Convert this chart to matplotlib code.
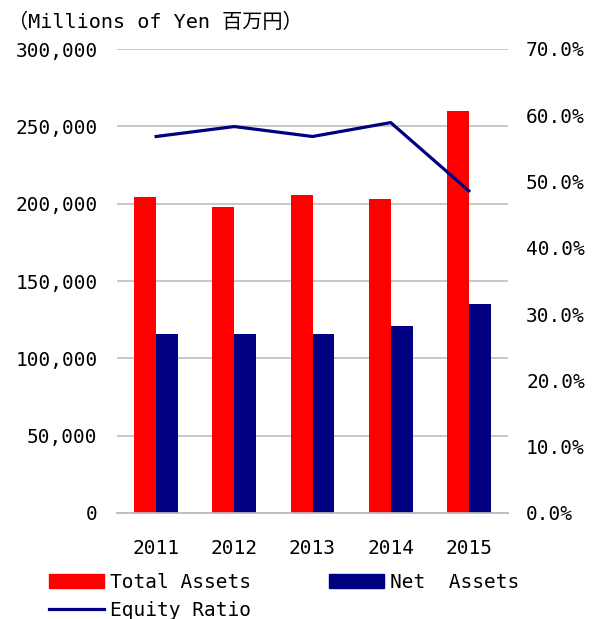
import matplotlib
matplotlib.use("Agg")
import matplotlib.pyplot as plt
from matplotlib.patches import Patch
from matplotlib.lines import Line2D
import numpy as np

plt.rcParams['font.family'] = ['DejaVu Sans Mono', 'Noto Sans CJK JP']

years = ["2011", "2012", "2013", "2014", "2015"]
total_assets = [204000, 198000, 205500, 203000, 260000]
net_assets = [116000, 116000, 116000, 121000, 135000]
equity_ratio = [56.8, 58.3, 56.8, 58.9, 48.6]

fig = plt.figure(figsize=(5.92, 6.19), dpi=100)
ax = fig.add_axes([117/592, 1-513/619, 391/592, 464/619])
ax2 = ax.twinx()

x = np.arange(len(years))
w = 0.28
ax.bar(x - w/2, total_assets, w, color="#FF0000", zorder=3)
ax.bar(x + w/2, net_assets, w, color="#000080", zorder=3)
ax2.plot(x, equity_ratio, color="#000080", lw=2.3, zorder=4)

ax.set_xlim(-0.5, len(years) - 0.5)
ax.set_ylim(0, 300000)
ax.set_yticks(range(0, 300001, 50000))
ax.set_yticklabels(["{:,}".format(v) for v in range(0, 300001, 50000)])
ax2.set_ylim(0, 70)
ax2.set_yticks(range(0, 71, 10))
ax2.set_yticklabels(["{:.1f}%".format(v) for v in range(0, 71, 10)])
ax.set_xticks(x)
ax.set_xticklabels(years)

ax.grid(axis="y", color="#BFBFBF", lw=1.2, zorder=0)
ax.set_axisbelow(True)
for a in (ax, ax2):
    for s in ["top", "left", "right"]:
        a.spines[s].set_visible(False)
    a.spines["bottom"].set_color("#BFBFBF")
    a.spines["bottom"].set_linewidth(1.2)
ax.tick_params(axis="y", length=0, pad=14, labelsize=14)
ax.tick_params(axis="x", length=0, pad=19, labelsize=14)
ax2.tick_params(axis="y", length=0, pad=13, labelsize=14)

fig.text(8/592, 1-22/619, "（Millions of Yen 百万円）", fontsize=14.5, va="center", ha="left")

handles = [Patch(color="#FF0000"), Line2D([0], [0], color="#000080", lw=2.3), Patch(color="#000080")]
labels = ["Total Assets", "Equity Ratio", "Net  Assets"]
fig.legend(handles, labels, ncol=2, loc="upper left", bbox_to_anchor=(49/592, 1-573/619),
           frameon=False, fontsize=14, borderpad=0, borderaxespad=0,
           handlelength=2.83, handleheight=0.77, handletextpad=0.3,
           columnspacing=4.0, labelspacing=0.45)

fig.savefig("out.png", dpi=100)
